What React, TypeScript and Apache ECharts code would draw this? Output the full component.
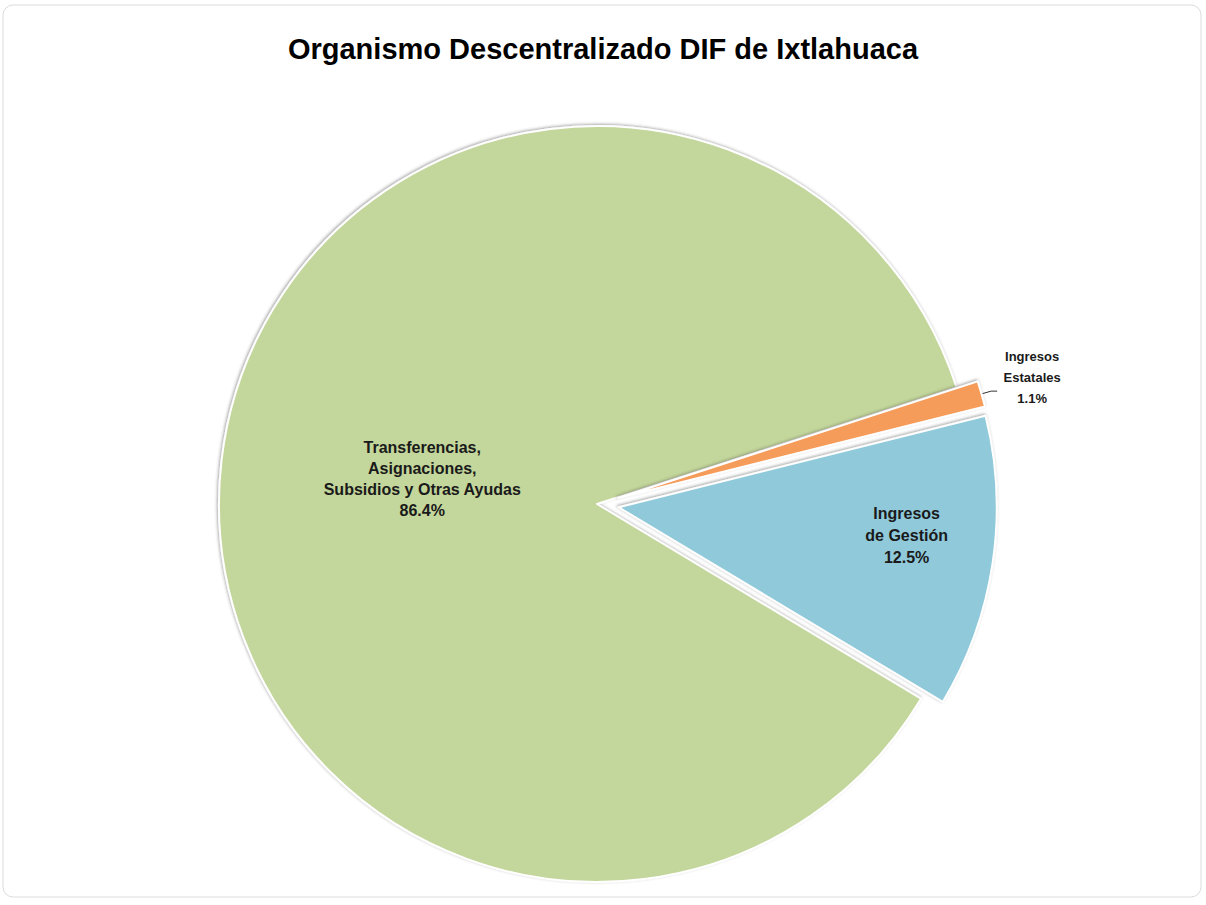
import React, { useEffect, useRef } from "react";
import * as echarts from "echarts";

const titleText = "Organismo Descentralizado DIF de Ixtlahuaca";
const sliceNames = [
  "Transferencias, Asignaciones, Subsidios y Otras Ayudas",
  "Ingresos Estatales",
  "Ingresos de Gestión",
];
const sliceLabelLines = [
  ["Transferencias,", "Asignaciones,", "Subsidios y Otras Ayudas"],
  ["Ingresos", "Estatales"],
  ["Ingresos", "de Gestión"],
];
const sliceValues = [86.4, 1.1, 12.5];
const sliceColors = ["#C3D69B", "#F59C5A", "#8FC9DA"];
const sliceSelected = [false, true, true];

export default function App() {
  const ref = useRef<HTMLDivElement>(null);
  useEffect(() => {
    document.body.style.margin = "0";
    const chart = echarts.init(ref.current!, null, { renderer: "svg" });
    const data = sliceNames.map((name, i) => {
      const isOutside = i === 1;
      return {
        name,
        value: sliceValues[i],
        selected: sliceSelected[i],
        itemStyle: { color: sliceColors[i] },
        label: {
          position: isOutside ? "outside" : "inside",
          formatter: () =>
            [...sliceLabelLines[i], sliceValues[i].toFixed(1) + "%"]
              .map((t) => `{t|${t}}`)
              .join("\n"),
          rich: {
            t: {
              fontFamily: "Liberation Sans, Arial, sans-serif",
              fontWeight: "bold",
              fontSize: isOutside ? 13 : 16,
              color: "#1a1a1a",
              align: "center",
              width: isOutside ? 56 : undefined,
              lineHeight: isOutside ? 21 : i === 0 ? 21 : 22,
            },
          },
        },
        labelLine: isOutside
          ? { show: true, length: 10, length2: 6, lineStyle: { color: "#333", width: 1 } }
          : { show: false },
      };
    });
    chart.setOption({
      animation: false,
      backgroundColor: "#ffffff",
      title: {
        text: titleText,
        left: "center",
        top: 29,
        textStyle: {
          fontFamily: "Liberation Sans, Arial, sans-serif",
          fontWeight: "bold",
          fontSize: 29,
          color: "#000",
        },
      },
      graphic: [
        {
          type: "rect",
          shape: { x: 3, y: 5, width: 1198, height: 892, r: 10 },
          style: { fill: "none", stroke: "#dcdcdc", lineWidth: 1 },
          silent: true,
        },
      ],
      series: [
        {
          type: "pie",
          center: [597, 504],
          radius: 378,
          startAngle: -31,
          clockwise: true,
          selectedMode: "multiple",
          selectedOffset: 22,
          emphasis: { disabled: true },
          avoidLabelOverlap: false,
          itemStyle: {
            borderColor: "#ffffff",
            borderWidth: 2,
            shadowBlur: 3,
            shadowColor: "rgba(60,60,60,0.45)",
            shadowOffsetX: -1,
            shadowOffsetY: -1,
          },
          labelLayout: (params: any) => {
            if (params.dataIndex === 0) return { dx: 16, dy: -3 };
            if (params.dataIndex === 1) return { dx: 2, dy: -14 };
            if (params.dataIndex === 2) return { dx: 98, dy: 0 };
            return {};
          },
          data,
        },
      ],
    });
    return () => chart.dispose();
  }, []);
  return <div ref={ref} style={{ width: 1206, height: 905 }} />;
}
